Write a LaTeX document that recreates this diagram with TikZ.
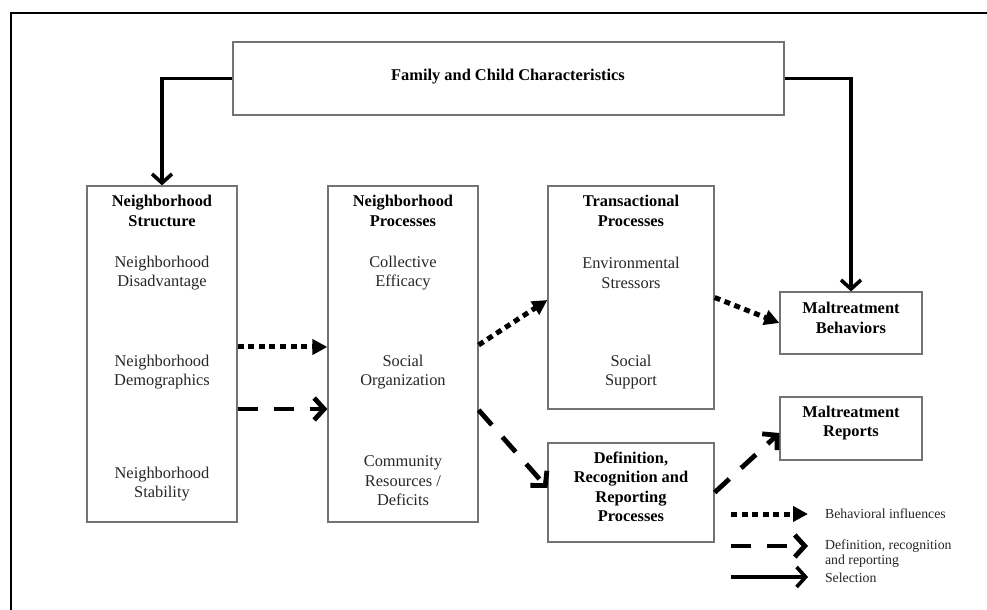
\documentclass[tikz,border=0pt]{standalone}
\usepackage{fontspec}
\setmainfont{Liberation Serif}
\usepackage{tikz}
\usetikzlibrary{arrows.meta,calc,fit,positioning}
\tikzset{
  box/.style={draw=black!55,line width=0.6pt,inner sep=0pt},
  title/.style={font=\bfseries\fontsize{8.2}{9.7}\selectfont,align=center},
  item/.style={font=\fontsize{8.2}{9.7}\selectfont,align=center,text=black!85},
  legtext/.style={font=\fontsize{6.9}{7.5}\selectfont,align=left,anchor=west,text=black!85},
  behavarrow/.style={line width=2.5pt,dash pattern=on 3pt off 2.3pt,-{Triangle[length=7.5pt,width=7.5pt]}},
  defarrow/.style={line width=2.4pt,dash pattern=on 10pt off 8pt,-{Straight Barb[length=5pt,width=11pt]}},
  selarrow/.style={line width=1.8pt,-{Straight Barb[length=4.5pt,width=10pt]}},
}
\begin{document}
\begin{tikzpicture}[x=0.5pt,y=-0.5pt]
\useasboundingbox (0,0) rectangle (987,610);
\clip (0,0) rectangle (987,610);
\draw[line width=1pt] (11,13) rectangle (1000,630);

\node[box,fit={(233,42) (784,115)}] (family) {};
\node[box,fit={(87,186) (237,522)}] (nstruct) {};
\node[box,fit={(328,186) (478,522)}] (nproc) {};
\node[box,fit={(548,186) (714,409)}] (trans) {};
\node[box,fit={(548,443) (714,542)}] (defn) {};
\node[box,fit={(780,292) (922,354)}] (behav) {};
\node[box,fit={(780,397) (922,460)}] (reports) {};

\node[title] (familytxt) at (508,77) {Family and Child Characteristics};

\node[title] (nstructtxt) at (162,211) {Neighborhood\\Structure};
\node[item] (disadv) at (162,273) {Neighborhood\\Disadvantage};
\node[item] (demog) at (162,372) {Neighborhood\\Demographics};
\node[item] (stab) at (162,484) {Neighborhood\\Stability};

\node[title] (nproctxt) at (403,211) {Neighborhood\\Processes};
\node[item] (effic) at (403,273) {Collective\\Efficacy};
\node[item] (socorg) at (403,372) {Social\\Organization};
\node[item] (resour) at (403,481) {Community\\Resources /\\Deficits};

\node[title] (transtxt) at (631,211) {Transactional\\Processes};
\node[item] (stress) at (631,273) {Environmental\\Stressors};
\node[item] (support) at (631,372) {Social\\Support};

\node[title] (defntxt) at (631,487) {Definition,\\Recognition and\\Reporting\\Processes};
\node[title] (behavtxt) at (851,318) {Maltreatment\\Behaviors};
\node[title] (reportstxt) at (851,423) {Maltreatment\\Reports};

\draw[selarrow] (family.west) -| (nstruct.north);
\draw[selarrow] (family.east) -| (behav.north);

\draw[behavarrow] ($(nstruct.east)+(0,-7)$) -- ($(nproc.west)+(0,-7)$);
\draw[defarrow] ($(nstruct.east)+(0,55)$) -- ($(nproc.west)+(0,55)$);
\draw[behavarrow] ($(nproc.east)+(0,-9)$) -- ($(trans.west)+(0,2.5)$);
\draw[behavarrow] (trans.east) -- (behav.west);
\draw[defarrow] ($(nproc.east)+(0,56)$) -- ($(defn.west)+(0,-4.5)$);
\draw[defarrow] (defn.east) -- ($(reports.west)+(0,4.5)$);

\coordinate (lgA) at (731,514);
\coordinate (lgB) at (808,514);
\coordinate (lgC) at (731,546);
\coordinate (lgD) at (808,546);
\coordinate (lgE) at (731,577);
\coordinate (lgF) at (808,577);
\draw[behavarrow] (lgA) -- (lgB);
\draw[defarrow] (lgC) -- (lgD);
\draw[selarrow] (lgE) -- (lgF);
\node[legtext] (lgbehav) at (818,514) {Behavioral influences};
\node[legtext] (lgdefn) at (818,554) {Definition, recognition\\and reporting};
\node[legtext] (lgsel) at (818,578) {Selection};
\end{tikzpicture}
\end{document}
